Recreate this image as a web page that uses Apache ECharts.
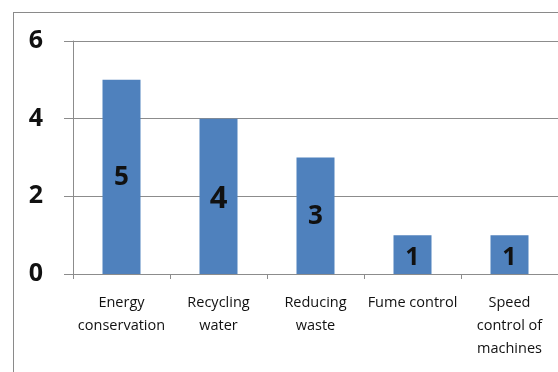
<!DOCTYPE html>
<html>
<head>
<meta charset="utf-8">
<script src="https://cdn.jsdelivr.net/npm/echarts@6/dist/echarts.min.js"></script>
<style>
  html, body { margin: 0; padding: 0; background: #fff; }
  #frame { position: absolute; left: 13px; top: 12px; width: 600px; height: 400px; border-left: 1px solid #8a8a8a; border-top: 1px solid #8a8a8a; }
  #main { position: absolute; left: 0; top: 0; width: 558px; height: 372px; }
</style>
</head>
<body>
<div id="frame"></div>
<div id="main"></div>
<script>
var categories = ['Energy\nconservation', 'Recycling\nwater', 'Reducing\nwaste', 'Fume control', 'Speed\ncontrol of\nmachines'];
var values = [5, 4, 3, 1, 1];
var labelSizes = [26, 31, 26, 25, 25];   // in-bar numbers are not all the same size
var labelShift = [1, 3, 1, 3, 3];

var myChart = echarts.init(document.getElementById('main'));

var barData = [];
values.forEach(function (v, i) {
    barData.push({
        value: v,
        label: { fontSize: labelSizes[i], offset: [0, labelShift[i]] }
    });
});

myChart.setOption({
    animation: false,
    grid: { left: 73, right: 0, top: 41, bottom: 98 },
    xAxis: {
        type: 'category',
        data: categories,
        axisLine: { lineStyle: { color: '#8c8c8c', width: 1 } },
        axisTick: { show: true, length: 5, lineStyle: { color: '#8c8c8c' } },
        axisLabel: {
            interval: 0,
            margin: 17,
            color: '#111',
            fontFamily: 'Open Sans',
            fontSize: 14.5,
            lineHeight: 23
        }
    },
    yAxis: {
        type: 'value',
        min: 0,
        max: 6,
        interval: 2,
        axisLine: { show: true, lineStyle: { color: '#8c8c8c' } },
        axisTick: { show: true, length: 9, lineStyle: { color: '#8c8c8c' } },
        splitLine: { lineStyle: { color: '#8c8c8c', width: 1 } },
        axisLabel: {
            margin: 30,
            color: '#111',
            fontFamily: 'Open Sans',
            fontWeight: 'bold',
            fontSize: 25
        }
    },
    series: [
        {
            type: 'bar',
            data: barData,
            barWidth: 38,
            itemStyle: { color: '#4f81bd' },
            label: {
                show: true,
                position: 'inside',
                color: '#111',
                fontFamily: 'Open Sans',
                fontWeight: 'bold'
            }
        }
    ]
});
</script>
</body>
</html>
